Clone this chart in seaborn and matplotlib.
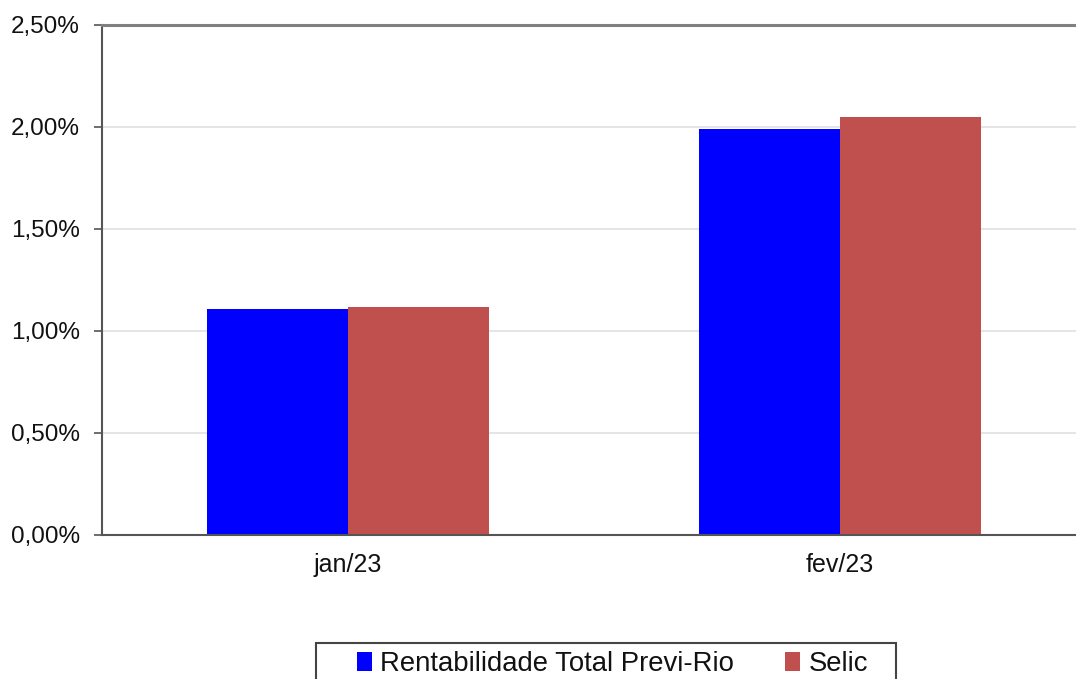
import matplotlib
matplotlib.use("Agg")
import matplotlib.pyplot as plt
import seaborn as sns
import pandas as pd
from matplotlib.ticker import FuncFormatter, FixedLocator
from matplotlib.patches import Patch, Rectangle

categories = ["jan/23", "fev/23"]
series_names = ["Rentabilidade Total Previ-Rio", "Selic"]
previ_rio = [1.11, 1.99]
selic = [1.12, 2.05]
colors = ["#0000FF", "#C0504D"]
y_ticks = [0.0, 0.5, 1.0, 1.5, 2.0, 2.5]

df = pd.DataFrame({
    "mes": categories * 2,
    "serie": [series_names[0]] * 2 + [series_names[1]] * 2,
    "valor": previ_rio + selic,
})

sns.set_theme(style="white")
plt.rcParams["font.family"] = ["Liberation Sans", "DejaVu Sans"]

fig = plt.figure(figsize=(10.76, 6.79), dpi=100)
ax = fig.add_axes([102 / 1076, 1 - 535 / 679, (1086 - 102) / 1076, 510 / 679])

sns.barplot(data=df, x="mes", y="valor", hue="serie", palette=colors,
            width=0.573, ax=ax, legend=False, saturation=1, linewidth=0)

ax.set_xlim(-0.5, 1.5)
ax.set_ylim(0, 2.5)
ax.yaxis.set_major_locator(FixedLocator(y_ticks))
ax.yaxis.set_major_formatter(FuncFormatter(lambda v, p: f"{v:.2f}%".replace(".", ",")))
ax.set_xticks([0, 1])
ax.set_xticklabels(categories)
ax.set_xticks([-0.5, 0.5, 1.5], minor=True)
ax.tick_params(axis="x", which="major", length=0, pad=13, labelsize=18, labelcolor="#111111")
ax.tick_params(axis="x", which="minor", length=6, width=1.2, color="#555555", direction="out")
ax.tick_params(axis="y", length=6, width=1.2, color="#555555", direction="out", left=True,
               labelsize=17.5, labelcolor="#111111", pad=10)
ax.grid(axis="y", color="#E0E0E0", linewidth=1.2)
ax.set_axisbelow(True)
ax.set_xlabel("")
ax.set_ylabel("")

for side in ["left", "bottom"]:
    ax.spines[side].set_color("#555555")
    ax.spines[side].set_linewidth(1.5)
ax.spines["top"].set_color("#808080")
ax.spines["top"].set_linewidth(2.2)
ax.spines["right"].set_visible(False)

# legend frame
fig.patches.append(Rectangle((316 / 1076, 1 - 700 / 679), 580 / 1076, 57 / 679,
                             transform=fig.transFigure, fill=False,
                             edgecolor="#444444", linewidth=1.5, clip_on=False))

handles = [Patch(facecolor=c, edgecolor="none") for c in colors]
leg = fig.legend(handles, series_names, loc="center left",
                 bbox_to_anchor=(357 / 1076, 1 - 664 / 679), ncol=2, frameon=False,
                 fontsize=19.8, handlelength=0.55, handleheight=0.7,
                 handletextpad=0.3, columnspacing=1.85, borderpad=0,
                 borderaxespad=0)
for t in leg.get_texts():
    t.set_color("#111111")

fig.savefig("out.png", dpi=100)
